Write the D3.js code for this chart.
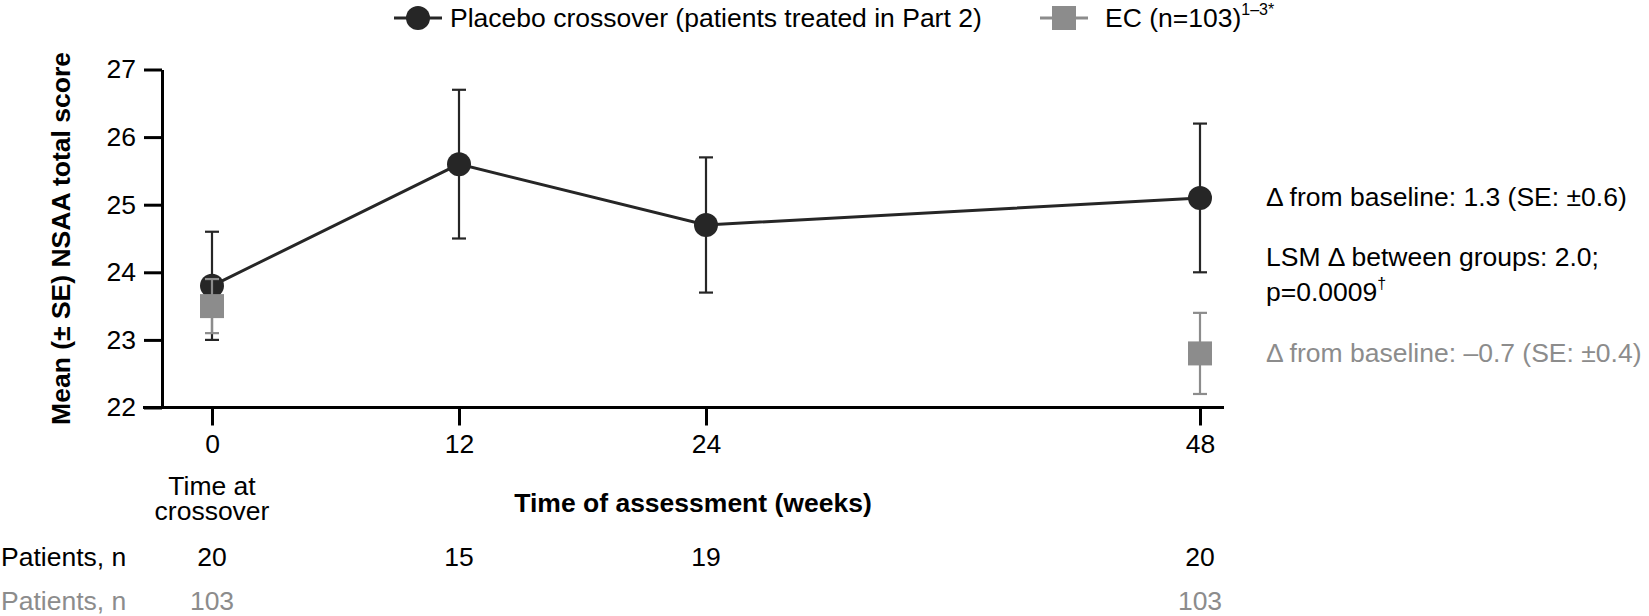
<!DOCTYPE html>
<html>
<head>
<meta charset="utf-8">
<script src="https://cdn.jsdelivr.net/npm/d3@7"></script>
<style>
  html, body { margin: 0; padding: 0; background: #fff; }
  svg { display: block; font-family: "Liberation Sans", Arial, sans-serif; }
</style>
</head>
<body>
<div id="chart"></div>
<script>
// values
const weeks = [0, 12, 24, 48];
const placeboMean = [23.8, 25.6, 24.7, 25.1];
const placeboSE = [0.8, 1.1, 1.0, 1.1];
const placeboN = [20, 15, 19, 20];

const ecWeeks = [0, 48];
const ecMean = [23.5, 22.8];
const ecSE = [0.4, 0.6];
const ecN = [103, 103];

const yTicks = [22, 23, 24, 25, 26, 27];
const xTicks = [0, 12, 24, 48];

const placeboLabel = "Placebo crossover (patients treated in Part 2)";
const ecLabel = "EC (n=103)";
const ecSup = "1–3*";
const notes = [
  { text: "Δ from baseline: 1.3 (SE: ±0.6)", y: 197, grey: false },
  { text: "LSM Δ between groups: 2.0;", y: 257, grey: false },
  { text: "p=0.0009", sup: "†", y: 292, grey: false },
  { text: "Δ from baseline: –0.7 (SE: ±0.4)", y: 353, grey: true },
];

const width = 1649;
const height = 616;
const fontSize = 26.5;
const dark = "#262626";
const grey = "#8c8c8c";
const tickLen = 18;

const svg = d3.select("#chart")
  .append("svg")
  .attr("width", width)
  .attr("height", height);

const x = d3.scaleLinear().domain([0, 48]).range([212, 1200]);
const y = d3.scaleLinear().domain([22, 27]).range([407.5, 69.5]);
const axisX = 162;
const axisY = y(22);

// y axis
const yAxis = svg.append("g")
  .attr("transform", `translate(${axisX},0)`)
  .call(d3.axisLeft(y).tickValues(yTicks).tickSize(tickLen).tickSizeOuter(0).tickPadding(8).tickFormat(d3.format("d")));
yAxis.select(".domain").attr("stroke", "#000").attr("stroke-width", 3);
yAxis.selectAll(".tick line").attr("stroke", "#000").attr("stroke-width", 3);
yAxis.selectAll(".tick text")
  .attr("fill", "#000")
  .attr("font-size", fontSize)
  .attr("font-family", "Liberation Sans, Arial, sans-serif");

// x axis
const xAxis = svg.append("g")
  .attr("transform", `translate(0,${axisY})`)
  .call(d3.axisBottom(x).tickValues(xTicks).tickSize(tickLen).tickPadding(9).tickFormat(d3.format("d")));
xAxis.select(".domain").remove();
xAxis.selectAll(".tick line").attr("stroke", "#000").attr("stroke-width", 3);
xAxis.selectAll(".tick text")
  .attr("fill", "#000")
  .attr("font-size", fontSize)
  .attr("font-family", "Liberation Sans, Arial, sans-serif");
svg.append("line")
  .attr("x1", axisX - tickLen - 1).attr("x2", 1224)
  .attr("y1", axisY).attr("y2", axisY)
  .attr("stroke", "#000").attr("stroke-width", 3);

// axis titles
svg.append("text")
  .attr("transform", `translate(61,${(y(22) + y(27)) / 2})rotate(-90)`)
  .attr("text-anchor", "middle")
  .attr("dominant-baseline", "central")
  .attr("font-size", fontSize)
  .attr("font-weight", "bold")
  .text("Mean (± SE) NSAA total score");

svg.append("text")
  .attr("x", 693).attr("y", 503)
  .attr("text-anchor", "middle")
  .attr("dominant-baseline", "central")
  .attr("font-size", fontSize)
  .attr("font-weight", "bold")
  .text("Time of assessment (weeks)");

svg.append("g")
  .selectAll("text")
  .data(["Time at", "crossover"])
  .join("text")
  .attr("x", x(0))
  .attr("y", (d, i) => 486 + i * 25)
  .attr("text-anchor", "middle")
  .attr("dominant-baseline", "central")
  .attr("font-size", fontSize)
  .text((d) => d);

// placebo series
const placebo = weeks.map((w, i) => ({ w, m: placeboMean[i], se: placeboSE[i] }));
const ec = ecWeeks.map((w, i) => ({ w, m: ecMean[i], se: ecSE[i] }));

function errorBars(data, color) {
  const g = svg.append("g").attr("stroke", color).attr("stroke-width", 2.2);
  g.selectAll("line.v")
    .data(data)
    .join("line")
    .attr("class", "v")
    .attr("x1", (d) => x(d.w)).attr("x2", (d) => x(d.w))
    .attr("y1", (d) => y(d.m - d.se)).attr("y2", (d) => y(d.m + d.se));
  const caps = data.flatMap((d) => [{ w: d.w, v: d.m - d.se }, { w: d.w, v: d.m + d.se }]);
  g.selectAll("line.cap")
    .data(caps)
    .join("line")
    .attr("class", "cap")
    .attr("x1", (d) => x(d.w) - 7).attr("x2", (d) => x(d.w) + 7)
    .attr("y1", (d) => y(d.v)).attr("y2", (d) => y(d.v));
}

svg.append("path")
  .datum(placebo)
  .attr("fill", "none")
  .attr("stroke", dark)
  .attr("stroke-width", 3)
  .attr("d", d3.line().x((d) => x(d.w)).y((d) => y(d.m)));

errorBars(placebo, dark);

svg.append("g")
  .selectAll("circle")
  .data(placebo)
  .join("circle")
  .attr("cx", (d) => x(d.w))
  .attr("cy", (d) => y(d.m))
  .attr("r", 12)
  .attr("fill", dark);

// external control series
errorBars(ec, grey);

svg.append("g")
  .selectAll("rect")
  .data(ec)
  .join("rect")
  .attr("x", (d) => x(d.w) - 12)
  .attr("y", (d) => y(d.m) - 12)
  .attr("width", 24)
  .attr("height", 24)
  .attr("fill", grey);

// legend
const legend = svg.append("g");
legend.append("line")
  .attr("x1", 394).attr("x2", 442).attr("y1", 18).attr("y2", 18)
  .attr("stroke", dark).attr("stroke-width", 3);
legend.append("circle")
  .attr("cx", 418).attr("cy", 18).attr("r", 12).attr("fill", dark);
legend.append("text")
  .attr("x", 450).attr("y", 18)
  .attr("dominant-baseline", "central")
  .attr("font-size", fontSize)
  .attr("fill", "#000")
  .text(placeboLabel);

legend.append("line")
  .attr("x1", 1040).attr("x2", 1088).attr("y1", 18).attr("y2", 18)
  .attr("stroke", grey).attr("stroke-width", 3);
legend.append("rect")
  .attr("x", 1052).attr("y", 6).attr("width", 24).attr("height", 24)
  .attr("fill", grey);
const ecText = legend.append("text")
  .attr("x", 1105).attr("y", 18)
  .attr("dominant-baseline", "central")
  .attr("font-size", fontSize)
  .attr("fill", "#000");
ecText.append("tspan").text(ecLabel);
ecText.append("tspan")
  .attr("font-size", 16)
  .attr("dy", -9)
  .text(ecSup);

// annotations on the right
const noteG = svg.append("g");
notes.forEach((n) => {
  const t = noteG.append("text")
    .attr("x", 1266).attr("y", n.y)
    .attr("dominant-baseline", "central")
    .attr("font-size", fontSize)
    .attr("fill", n.grey ? grey : "#000");
  t.append("tspan").text(n.text);
  if (n.sup) {
    t.append("tspan").attr("font-size", 16).attr("dy", -9).text(n.sup);
  }
});

// patients rows
function patientRow(label, ws, ns, rowY, color) {
  const g = svg.append("g").attr("fill", color).attr("font-size", fontSize);
  g.append("text")
    .attr("x", 1).attr("y", rowY)
    .attr("dominant-baseline", "central")
    .text(label);
  g.selectAll("text.n")
    .data(ws.map((w, i) => ({ w, n: ns[i] })))
    .join("text")
    .attr("class", "n")
    .attr("x", (d) => x(d.w))
    .attr("y", rowY)
    .attr("text-anchor", "middle")
    .attr("dominant-baseline", "central")
    .text((d) => d.n);
}

patientRow("Patients, n", weeks, placeboN, 557, "#000");
patientRow("Patients, n", ecWeeks, ecN, 601, grey);
</script>
</body>
</html>
